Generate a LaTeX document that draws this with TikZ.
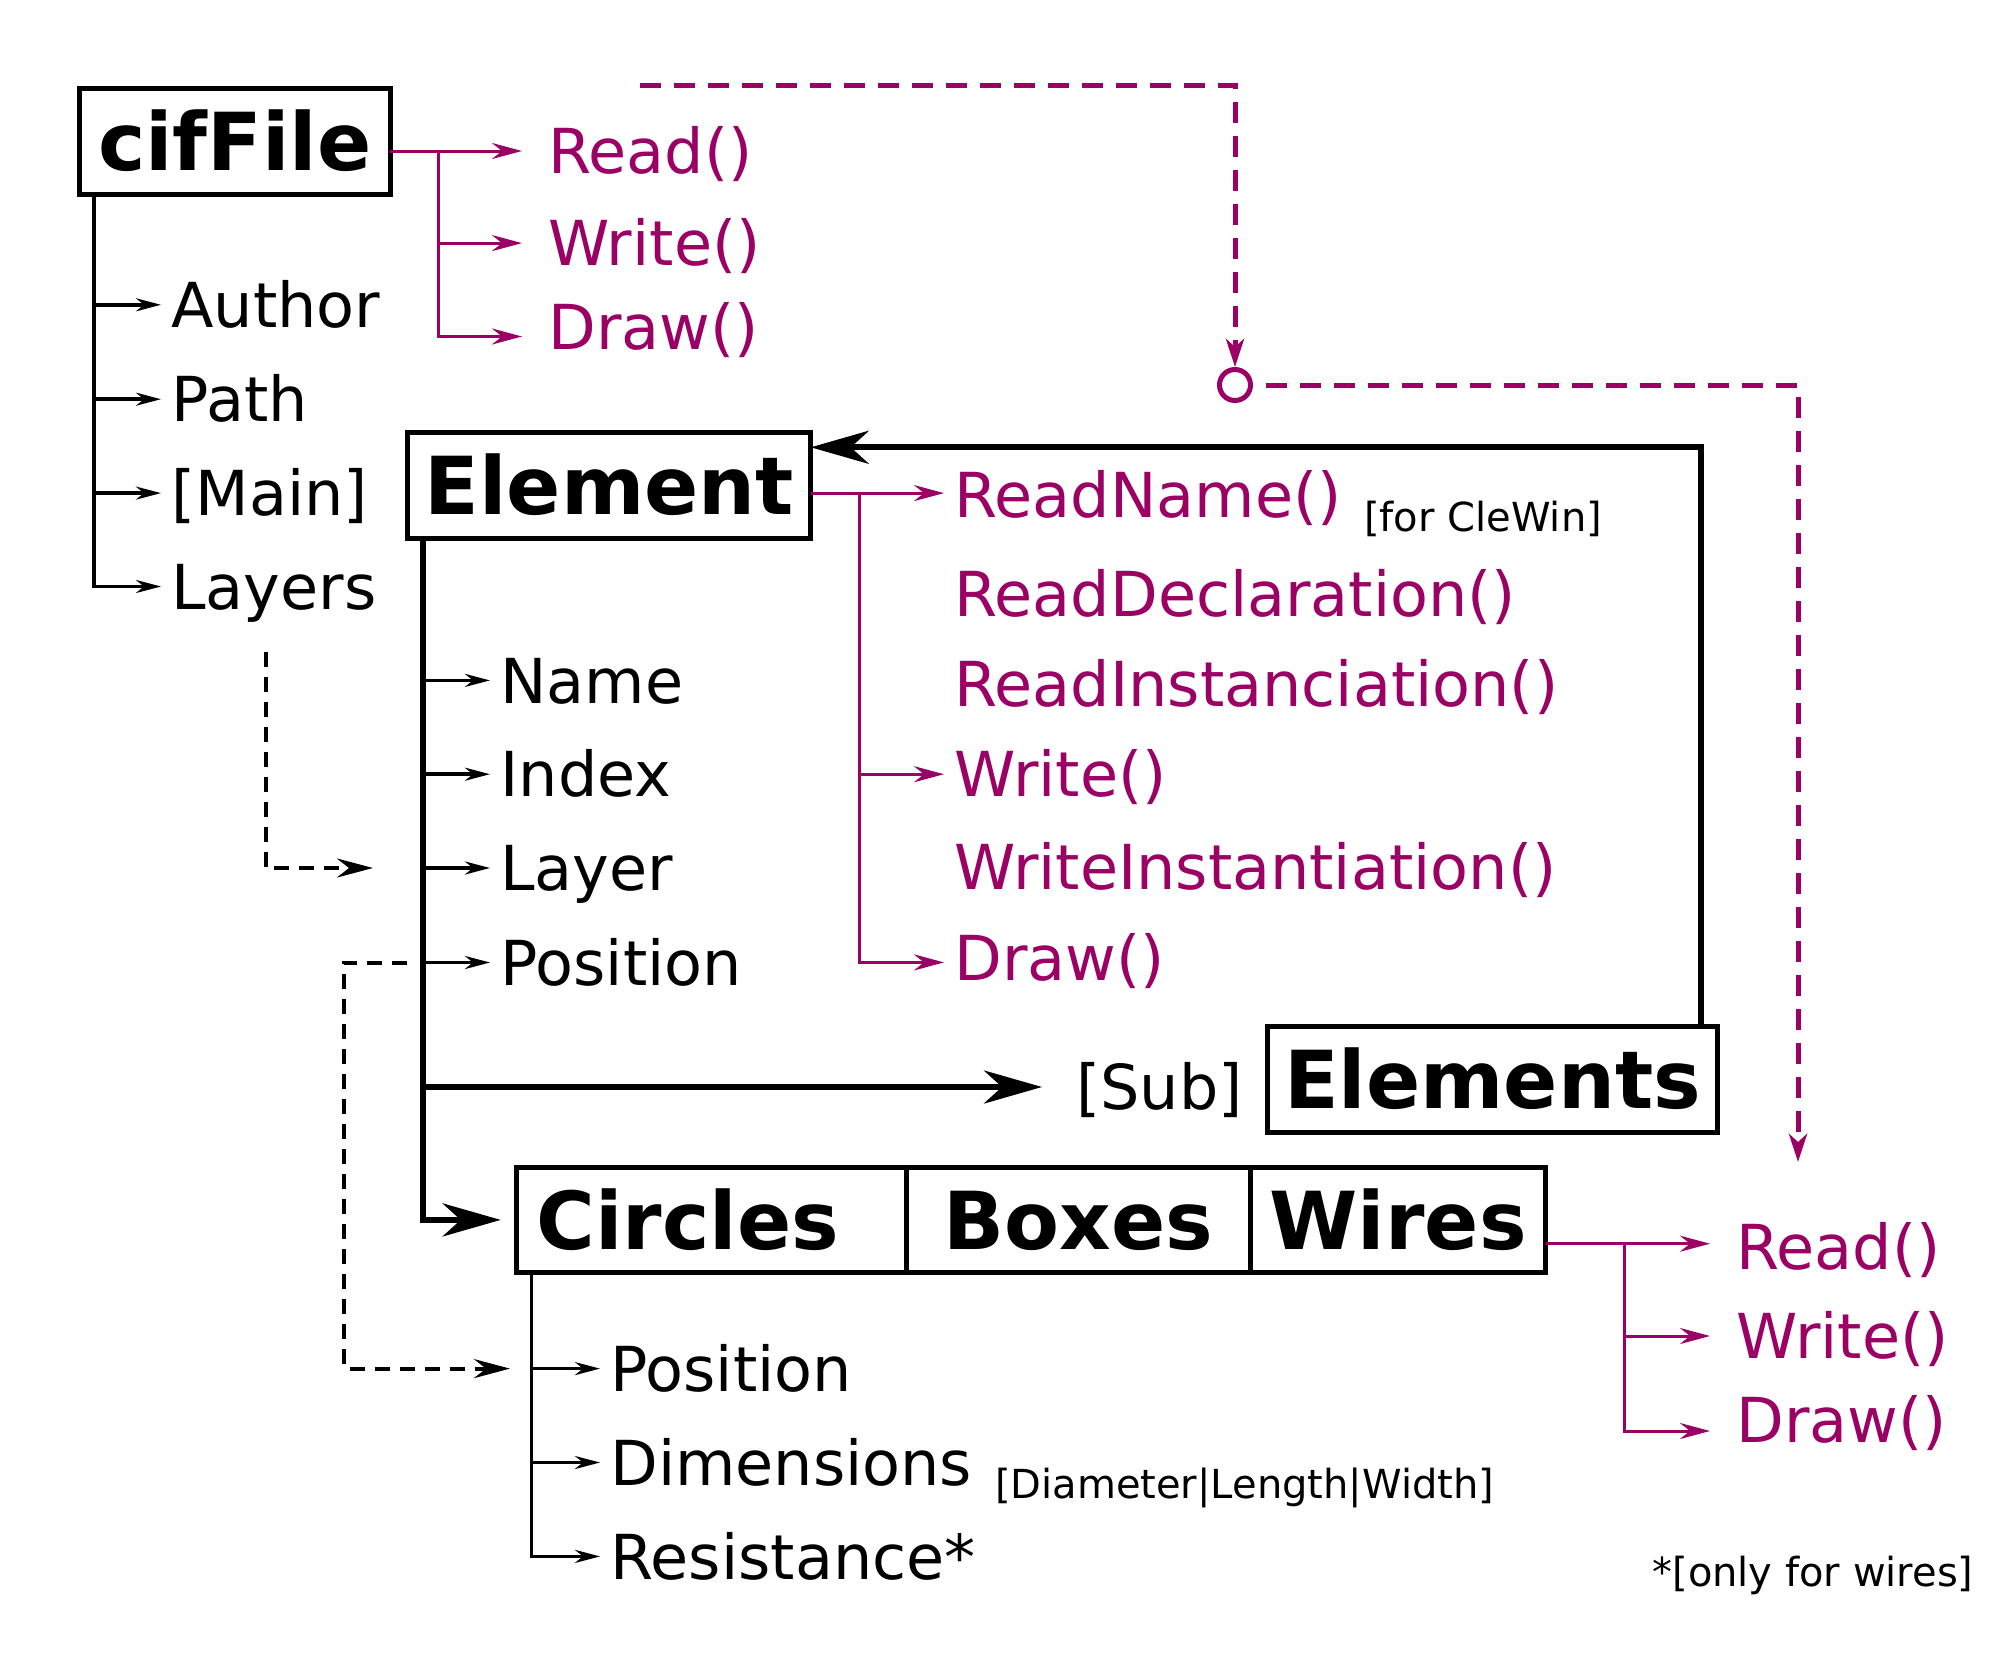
\documentclass[tikz,border=0pt]{standalone}
\usepackage{fontspec}
\setmainfont{DejaVu Sans}
\usetikzlibrary{arrows.meta,positioning}
\definecolor{method}{RGB}{155,0,100}

\begin{document}
\begin{tikzpicture}[
  x=0.5pt, y=-0.5pt,
  % class boxes
  cls/.style={
    draw=black,
    line width=2.5pt,
    inner sep=0pt,
    outer sep=0pt,
    font=\fontsize{40pt}{48pt}\selectfont\bfseries,
    text height=29.2pt,
    text depth=0pt,
    minimum height=52.9pt
  },
  lbl/.style={
    anchor=west,
    inner xsep=5pt,
    inner ysep=0pt,
    font=\fontsize{31pt}{37pt}\selectfont,
    text height=22.6pt,
    text depth=0pt
  },
  meth/.style={lbl, text=method},
  farlbl/.style={inner xsep=13pt},
  smallnote/.style={
    anchor=base west,
    inner sep=0pt,
    font=\fontsize{20pt}{24pt}\selectfont
  },
  attr/.style={line width=1.75pt, -{Stealth[length=12.5pt,width=6.5pt,inset=4pt]}},
  methlink/.style={color=method, line width=1.5pt, -{Stealth[length=15pt,width=8pt,inset=5pt]}},
  bigarr/.style={line width=3pt, -{Stealth[length=29pt,width=16.5pt,inset=9pt]}},
  dashlink/.style={line width=2pt, dash pattern=on 7.5pt off 5pt, -{Stealth[length=18pt,width=9.5pt,inset=6pt]}},
  mdashlink/.style={color=method, line width=2.5pt, dash pattern=on 10.5pt off 6.5pt, -{Stealth[length=14pt,width=9pt,inset=4pt]}}
]
\useasboundingbox (0,0) rectangle (2008,1654);

% Classes
\node[cls, minimum width=155.25pt] (cif) at (234.75,141.6) {cifFile};
\node[cls, minimum width=201.5pt] (element) at (609.25,485.2) {Element};
\node[cls, minimum width=225pt] (elements) at (1492.5,1079.1) {Elements};
\node[cls, anchor=west, text width=175pt, align=left, inner xsep=10pt] (circles) at (516.7,1219.9) {Circles};
\node[cls, anchor=west, minimum width=171.9pt] (boxes) at (circles.east) {Boxes};
\node[cls, anchor=west, minimum width=147.65pt] (wires) at (boxes.east) {Wires};

% cifFile attributes
\path (cif.south west) ++(14.5,0) coordinate (ctrunk);
\node[lbl] (author) at (161,304.8) {Author};
\node[lbl] (path) at (161,399.2) {Path};
\node[lbl] (main) at (161,493.1) {[Main]};
\node[lbl] (layers) at (161,586.5) {Layers};
\draw[attr] (ctrunk) |- (layers.west);
\foreach \n in {author,path,main}
  \draw[attr] (ctrunk |- \n.west) -- (\n.west);

% cifFile methods
\node[meth, farlbl] (cread) at (522,151) {Read()};
\node[meth, farlbl] (cwrite) at (522,243.1) {Write()};
\node[meth, farlbl] (cdraw) at (522,326.5) {Draw()};
\path (cif.east |- cread.west) ++(48,0) coordinate (cfork);
\draw[methlink] (cif.east |- cread.west) -- (cread.west);
\draw[methlink] (cfork) |- ([yshift=-5pt]cdraw.west);
\draw[methlink] (cfork |- cwrite.west) -- (cwrite.west);

% Element attributes
\path (element.south west) ++(15.7,0) coordinate (etrunk);
\node[lbl] (name) at (490,680.4) {Name};
\node[lbl] (index) at (490,774.2) {Index};
\node[lbl] (layer) at (490,868) {Layer};
\node[lbl] (epos) at (490,962.5) {Position};
\foreach \n in {name,index,layer,epos}
  \draw[attr] (etrunk |- \n.west) -- (\n.west);

% Sub elements and shapes
\node[lbl, inner xsep=17pt] (sub) at (1042,1087) {[Sub]};
\draw[bigarr] (etrunk |- sub.west) -- (sub.west);
\draw[bigarr, shorten >=8pt] (etrunk) |- (circles.west);
\draw[bigarr] ([xshift=-8.5pt]elements.north east) |- ([yshift=-7.5pt]element.north east);

% Element methods
\node[meth] (rname) at (944,495) {ReadName()};
\node[smallnote] (clewin) at ([xshift=6pt,yshift=-7pt]rname.base east) {[for CleWin]};
\node[meth] (rdecl) at (944,594) {ReadDeclaration()};
\node[meth] (rinst) at (944,684) {ReadInstanciation()};
\node[meth] (ewrite) at (944,774.2) {Write()};
\node[meth] (winst) at (944,867) {WriteInstantiation()};
\node[meth] (edraw) at (944,958) {Draw()};
\path (element.east |- 0,493.1) ++(48.6,0) coordinate (efork);
\draw[methlink] (element.east |- efork) -- (rname.west |- efork);
\draw[methlink] (efork) |- ([yshift=-2.2pt]edraw.west);
\draw[methlink] (efork |- ewrite.west) -- (ewrite.west);

% Shape attributes
\path (circles.south west) ++(14.7,0) coordinate (btrunk);
\node[lbl] (cpos) at (600,1368.6) {Position};
\node[lbl] (cdim) at (600,1462.5) {Dimensions};
\node[smallnote] (dimnote) at ([xshift=6pt,yshift=-6.5pt]cdim.base east) {[Diameter|Length|Width]};
\node[lbl] (resist) at (600,1556.4) {Resistance*};
\draw[attr] (btrunk) |- (resist.west);
\foreach \n in {cpos,cdim}
  \draw[attr] (btrunk |- \n.west) -- (\n.west);

% Shape methods
\node[meth, farlbl] (wread) at (1710,1247) {Read()};
\node[meth, farlbl] (wwrite) at (1710,1336) {Write()};
\node[meth, farlbl] (wdraw) at (1710,1420) {Draw()};
\path (wires.east |- 0,1243.7) ++(79,0) coordinate (wfork);
\draw[methlink] (wires.east |- wfork) -- (wread.west |- wfork);
\draw[methlink] (wfork) |- ([yshift=-5.5pt]wdraw.west);
\draw[methlink] (wfork |- wwrite.west) -- (wwrite.west);

\node[smallnote] (footnote) at (1652,1586.5) {*[only for wires]};

% Dashed links
\draw[dashlink] ([xshift=-4pt,yshift=-21pt]layers.south) |- ([xshift=-58.5pt]layer.west);
\draw[dashlink] ([xshift=-41.5pt]epos.west) -- ++(-63.2,0) |- ([xshift=-45pt]cpos.west);

% Method calls
\coordinate (mstart) at (640,85.4);
\node[circle, draw=method, line width=2.5pt, minimum size=15.5pt, inner sep=0pt] (hub) at (1235,385) {};
\coordinate (mend) at (1798,1162);
\draw[mdashlink] (mstart) -| (hub.north);
\draw[mdashlink, dash phase=10.5pt] (hub.east) -| (mend);

\end{tikzpicture}
\end{document}
